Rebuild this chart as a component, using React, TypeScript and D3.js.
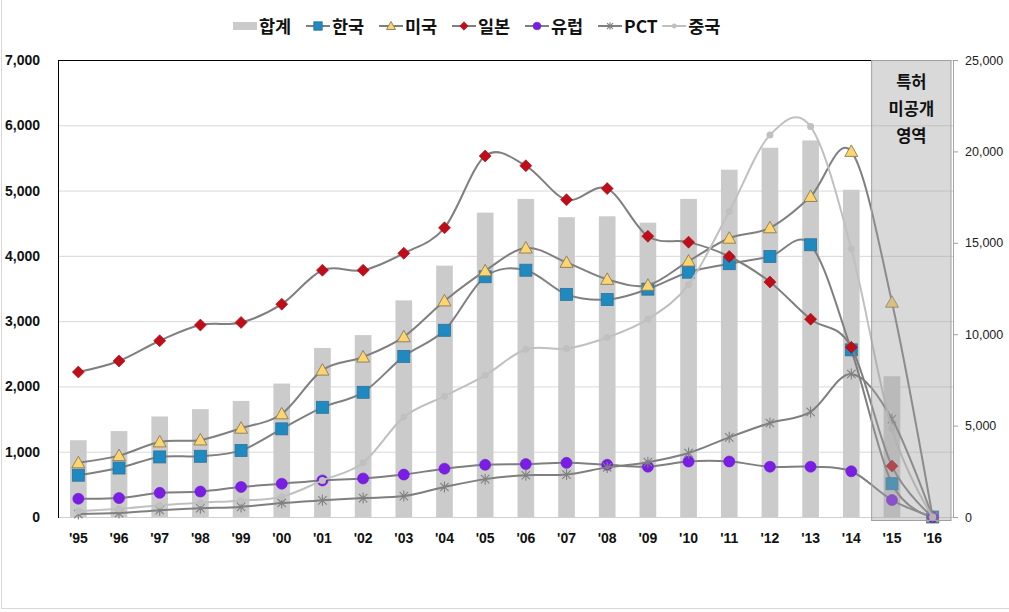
import React from 'react'
import * as d3 from 'd3'

// categories (x axis)
const years = ["'95", "'96", "'97", "'98", "'99", "'00", "'01", "'02", "'03", "'04", "'05", "'06", "'07", "'08", "'09", "'10", "'11", "'12", "'13", "'14", "'15", "'16"]

// bar series on the right axis
const total = [4200, 4700, 5500, 5900, 6350, 7300, 9250, 9950, 11850, 13750, 16650, 17400, 16400, 16450, 16100, 17400, 19000, 20200, 20600, 17900, 7700, 0]

// line series on the left axis
const korea = [640, 750, 920, 930, 1020, 1350, 1680, 1910, 2460, 2860, 3680, 3780, 3410, 3330, 3490, 3750, 3880, 3990, 4170, 2560, 510, 0]
const usa = [830, 940, 1150, 1180, 1360, 1580, 2250, 2450, 2760, 3310, 3770, 4120, 3900, 3640, 3550, 3920, 4270, 4430, 4910, 5600, 3290, 0]
const japan = [2220, 2390, 2700, 2940, 2980, 3260, 3780, 3780, 4040, 4430, 5530, 5380, 4860, 5030, 4300, 4210, 3990, 3600, 3030, 2600, 780, 0]
const europe = [280, 290, 370, 390, 460, 510, 560, 590, 650, 740, 800, 810, 830, 800, 770, 850, 850, 770, 770, 700, 260, 0]
const pct = [45, 60, 105, 135, 155, 215, 255, 290, 320, 460, 580, 640, 650, 760, 840, 980, 1220, 1440, 1610, 2190, 1500, 0]
const china = [90, 125, 180, 220, 250, 310, 560, 830, 1530, 1850, 2170, 2570, 2580, 2750, 3030, 3560, 4680, 5850, 5980, 4110, 1350, 0]

const leftTicks = [0, 1000, 2000, 3000, 4000, 5000, 6000, 7000]
const rightTicks = [0, 5000, 10000, 15000, 20000, 25000]
const boxLabel = ['특허', '미공개', '영역']

const W = 1009
const H = 612
const plot = { left: 58, right: 953, top: 60, bottom: 517 }
const korFont = '"Noto Sans CJK KR", sans-serif'
const numFont = '"Liberation Sans", Arial, sans-serif'

const series = [
  { name: '한국', values: korea, line: '#7f7f7f', marker: 'square', fill: '#1f8ac0', stroke: '#2f7198' },
  { name: '미국', values: usa, line: '#7f7f7f', marker: 'triangle', fill: '#fcd56e', stroke: '#8a7a55' },
  { name: '일본', values: japan, line: '#7f7f7f', marker: 'diamond', fill: '#c00d1a', stroke: '#9a0b14' },
  { name: '유럽', values: europe, line: '#7f7f7f', marker: 'circle', fill: '#7a1ee6', stroke: '#6a18c8' },
  { name: 'PCT', values: pct, line: '#7f7f7f', marker: 'star', fill: 'none', stroke: '#808080' },
  { name: '중국', values: china, line: '#c0c0c0', marker: 'dot', fill: '#c0c0c0', stroke: '#c0c0c0' },
]

const Marker = ({ type, fill, stroke, s = 1 }) => {
  if (type === 'square') return <rect x={-6 * s} y={-6 * s} width={12 * s} height={12 * s} fill={fill} stroke={stroke} strokeWidth={0.8} />
  if (type === 'triangle') return <path d={`M0,${-6.5 * s}L${6.5 * s},${5 * s}L${-6.5 * s},${5 * s}Z`} fill={fill} stroke={stroke} strokeWidth={0.9} />
  if (type === 'diamond') return <path d={`M0,${-6 * s}L${6 * s},0L0,${6 * s}L${-6 * s},0Z`} fill={fill} stroke={stroke} strokeWidth={0.6} />
  if (type === 'circle') return <circle r={5.5 * s} fill={fill} stroke={stroke} strokeWidth={0.6} />
  if (type === 'dot') return <circle r={3.5 * s} fill={fill} />
  const a = 4.2 * s
  return <path d={`M${-a},${-a}L${a},${a}M${-a},${a}L${a},${-a}M0,${-5.5 * s}V${5.5 * s}`} stroke={stroke} strokeWidth={1.1} fill="none" />
}

const textWidth = (t: string, fs: number) =>
  Array.from(t).reduce((w, c) => w + (/[\uac00-\ud7a3]/.test(c) ? fs : fs * 0.5), 0)

export default function App() {
  const x = d3.scaleBand<string>().domain(years).range([plot.left, plot.right]).paddingInner(0.59).paddingOuter(0.295)
  const step = x.step()
  const cx = (d: string) => (x(d) as number) + x.bandwidth() / 2
  const yL = d3.scaleLinear().domain([0, 7000]).range([plot.bottom, plot.top])
  const yR = d3.scaleLinear().domain([0, 25000]).range([plot.bottom, plot.top])
  const fmt = d3.format(',')

  const line = d3
    .line<number>()
    .x((_, i) => cx(years[i]))
    .y((d) => yL(d))
    .curve(d3.curveCatmullRom.alpha(0))

  // legend layout
  const legFs = 17.5
  const legendItems = [{ name: '합계', kind: 'bar' }, ...series.map((s) => ({ name: s.name, kind: 'line', s }))]
  let lx = 233
  const legend = legendItems.map((it) => {
    const pos = lx
    lx += 24 + 3 + textWidth(it.name, legFs) + 11
    return { ...it, x: pos }
  })

  const boxX0 = cx("'15") - step / 2
  const boxX1 = plot.right - 2

  return (
    <svg width={W} height={H} style={{ position: 'absolute', left: 0, top: 0, background: '#fff' }}>
      <rect x={1.5} y={-2} width={W + 4} height={H - 1.5} fill="#fff" stroke="#d9d9d9" />

      {/* gridlines */}
      {leftTicks.map((t) => (
        <line key={t} x1={plot.left} x2={plot.right} y1={yL(t) + 0.5} y2={yL(t) + 0.5} stroke={t === 0 ? '#d0d0d0' : '#d9d9d9'} />
      ))}

      {/* bars */}
      {total.map((v, i) => (
        <rect key={i} x={x(years[i])} y={yR(v)} width={x.bandwidth()} height={yR(0) - yR(v)} fill="#cbcbcb" />
      ))}

      {/* plot border */}
      <line x1={plot.left + 0.5} x2={plot.left + 0.5} y1={plot.top} y2={plot.bottom + 1} stroke="#000" />
      <line x1={plot.left} x2={boxX0} y1={plot.top + 0.5} y2={plot.top + 0.5} stroke="#000" />
      <line x1={plot.right + 0.5} x2={plot.right + 0.5} y1={plot.top} y2={plot.bottom + 1} stroke="#a6a6a6" />

      {/* series */}
      {series.map((s) => (
        <g key={s.name}>
          <path d={line(s.values) as string} fill="none" stroke={s.line} strokeWidth={2} />
          {s.values.map((v, i) => (
            <g key={i} transform={`translate(${cx(years[i])},${yL(v)})`}>
              <Marker type={s.marker} fill={s.fill} stroke={s.stroke} />
            </g>
          ))}
        </g>
      ))}

      {/* unpublished patent region */}
      <rect x={boxX0} y={plot.top + 0.5} width={boxX1 - boxX0} height={plot.bottom + 3 - plot.top} fill="rgba(160,160,160,0.4)" stroke="#a0a0a0" />
      {boxLabel.map((t, i) => (
        <text key={t} x={(boxX0 + boxX1) / 2} y={88 + i * 27} textAnchor="middle" fontFamily={korFont} fontWeight="bold" fontSize={16.5} fill="#111">
          {t}
        </text>
      ))}

      {/* left axis */}
      {leftTicks.map((t) => (
        <text key={t} x={40} y={yL(t) + 5} textAnchor="end" fontFamily={numFont} fontWeight="bold" fontSize={14} fill="#111">
          {fmt(t)}
        </text>
      ))}

      {/* right axis */}
      {rightTicks.map((t) => (
        <g key={t}>
          <line x1={plot.right} x2={plot.right + 5} y1={yR(t) + 0.5} y2={yR(t) + 0.5} stroke="#a0a0a0" />
          <text x={965} y={yR(t) + 4.5} fontFamily={numFont} fontSize={12.5} fill="#222">
            {fmt(t)}
          </text>
        </g>
      ))}

      {/* x axis */}
      {years.map((yv) => (
        <text key={yv} x={cx(yv)} y={543} textAnchor="middle" fontFamily={numFont} fontWeight="bold" fontSize={14} fill="#111">
          {yv}
        </text>
      ))}

      {/* legend */}
      {legend.map((it: any) => (
        <g key={it.name} transform={`translate(${it.x},26)`}>
          {it.kind === 'bar' ? (
            <rect x={0} y={-4} width={24} height={8} fill="#cbcbcb" />
          ) : (
            <>
              <line x1={0} x2={24} y1={0} y2={0} stroke={it.s.line} strokeWidth={2} />
              <g transform="translate(12,0)">
                <Marker type={it.s.marker} fill={it.s.fill} stroke={it.s.stroke} s={0.7} />
              </g>
            </>
          )}
          <text x={26} y={6.5} fontFamily={korFont} fontWeight="bold" fontSize={legFs} fill="#111">
            {it.name}
          </text>
        </g>
      ))}
    </svg>
  )
}
